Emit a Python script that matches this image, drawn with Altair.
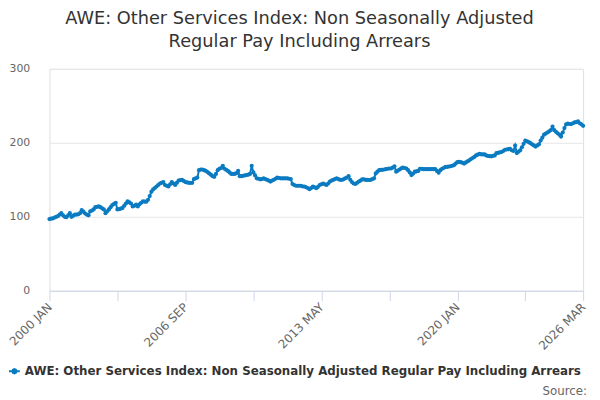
import altair as alt
import pandas as pd

TITLE = ["AWE: Other Services Index: Non Seasonally Adjusted", "Regular Pay Including Arrears"]
SERIES = "AWE: Other Services Index: Non Seasonally Adjusted Regular Pay Including Arrears"
MONTHS = ["JAN", "FEB", "MAR", "APR", "MAY", "JUN", "JUL", "AUG", "SEP", "OCT", "NOV", "DEC"]
START_YEAR = 2000

# monthly values, one row per year (2000 .. 2026 MAR)
VALUES = [
    97, 97.5, 98, 99, 100, 101, 103, 105, 102, 100, 99.5, 102,            # 2000
    105, 100, 101.5, 103, 103, 103.5, 105, 109, 107, 104.5, 103, 102,     # 2001
    107.5, 108.5, 110, 113, 113.5, 114, 113, 111.5, 110, 105, 107.5, 110, # 2002
    113, 116, 117.5, 119, 110, 110.5, 111, 112, 115, 118, 121, 119.5,     # 2003
    118, 114, 115, 116.5, 114, 117, 119, 121, 120.5, 120.5, 123, 128,     # 2004
    134, 137, 139, 141, 143, 145, 146, 147, 143, 142, 141, 144,           # 2005
    147, 145, 143, 146, 149, 149.5, 150, 148.5, 147, 146.5, 146, 146,     # 2006
    146, 151, 152, 153, 163, 164, 164, 163, 162, 160.5, 158.7, 157,       # 2007
    155, 154, 158, 163, 165, 166, 169, 165, 163.5, 162, 160, 158,         # 2008
    158, 158, 159, 162, 155, 155, 155.5, 156, 156.5, 157, 158, 169,       # 2009
    160, 156, 152, 151.5, 150.7, 151, 152, 151, 150, 149, 147.6, 149,     # 2010
    150, 151.5, 153, 152.5, 152, 152, 152, 152, 152, 151.5, 151, 144.4,   # 2011
    143, 142, 142, 142, 142, 141, 141, 140, 139, 137.3, 139, 141,         # 2012
    140, 138.7, 140.5, 143, 144, 145, 144, 143, 145, 147.6, 149, 150,     # 2013
    151, 152, 151, 150, 150, 150.7, 152, 153, 155, 150, 147, 145,         # 2014
    144.4, 146, 147.6, 149, 150.7, 150.5, 150, 150, 149.8, 150, 151, 152, # 2015
    158.7, 161, 163, 163.5, 163.5, 164, 164.5, 165, 165.3, 165.3, 166.5, 168.4,  # 2016
    161, 162.5, 164, 165.5, 166.7, 166, 165.3, 163, 160, 156.4, 158.5, 161,      # 2017
    161.5, 162, 165, 165, 164.4, 164.5, 164.4, 164.4, 164.4, 164.5, 164.4, 164.4, # 2018
    162, 159.6, 163, 165, 166, 167.6, 167.5, 168, 168.4, 169, 169.8, 172,        # 2019
    174, 174.2, 174, 173, 172, 173.5, 175, 176.4, 178, 179.5, 181, 183,          # 2020
    184, 185, 184.5, 184.4, 184.4, 183, 182.2, 182, 181.8, 182.5, 183, 186,      # 2021
    186.5, 187, 187.6, 189, 190.7, 191, 191.5, 192, 190, 189, 196.4, 186.2,      # 2022
    188, 190, 194, 198.7, 203, 202, 201, 199.5, 198, 196.5, 195, 196.5,          # 2023
    198, 203, 207, 211, 212.5, 214, 215.5, 217.3, 221.8, 217.3, 215, 213,        # 2024
    211, 208.4, 214, 220, 225, 226, 225.5, 225.3, 226.5, 227.6, 228, 228.9,      # 2025
    226.5, 225, 223,                                                              # 2026
]

LABELLED = [0, 80, 160, 240, 314]
TICKS = list(range(0, 301, 20)) + [314]
Y_TICKS = [0, 100, 200, 300]

COLOR = "#0b7bc1"
FONT = "DejaVu Sans"

labels = [f"{START_YEAR + i // 12} {MONTHS[i % 12]}" for i in range(len(VALUES))]
df = pd.DataFrame({"i": list(range(len(VALUES))), "value": VALUES, "label": labels, "series": SERIES})

label_expr = "".join(f"datum.value == {k} ? '{labels[k]}' : " for k in LABELLED) + "''"

PAD_L = 42
W, H = 541, 225

x_enc = alt.X(
    "i:Q",
    scale=alt.Scale(domain=[0, len(VALUES) - 1], nice=False, zero=False),
    axis=alt.Axis(
        title=None, values=TICKS, labelExpr=label_expr, grid=False,
        domainColor="#ccd6eb", tickColor="#ccd6eb", tickSize=10,
        labelAngle=315, labelAlign="right", labelBaseline="middle",
        labelPadding=4, labelFontSize=12, labelColor="#666666", labelFont=FONT,
        labelOverlap=False, labelFlush=False,
    ),
)
y_enc = alt.Y(
    "value:Q",
    scale=alt.Scale(domain=[0, 300], nice=False),
    axis=alt.Axis(
        title=None, values=Y_TICKS, domain=False, ticks=False,
        gridColor="#e6e6e6", labelPadding=20, labelFontSize=11,
        labelColor="#666666", labelFont=FONT,
    ),
)

symbol_path = ("M-1,0L1,0M0.4,0L0.28,0.28L0,0.4L-0.28,0.28L-0.4,0"
               "L-0.28,-0.28L0,-0.4L0.28,-0.28Z")

color_enc = alt.Color(
    "series:N",
    scale=alt.Scale(range=[COLOR]),
    legend=alt.Legend(
        title=None, orient="none", legendX=-PAD_L, legendY=300, padding=0,
        symbolType=symbol_path, symbolSize=121, symbolStrokeWidth=2,
        symbolFillColor=COLOR, symbolStrokeColor=COLOR,
        labelFont=FONT, labelFontSize=12, labelFontWeight="bold",
        labelColor="#333333", labelLimit=0, labelOffset=4,
    ),
)

line = alt.Chart(df).mark_line(strokeWidth=2).encode(x=x_enc, y=y_enc, color=color_enc)
points = alt.Chart(df).mark_point(filled=True, size=18, opacity=1).encode(
    x="i:Q", y="value:Q", color=alt.Color("series:N", legend=None, scale=alt.Scale(range=[COLOR]))
)

source = alt.Chart(pd.DataFrame({"t": ["Source:"]})).mark_text(
    align="right", baseline="middle", fontSize=12, font=FONT, color="#666666"
).encode(x=alt.value(545), y=alt.value(327), text="t:N")

chart = alt.layer(line, points, source).properties(
    width=W,
    height=H,
    autosize=alt.AutoSizeParams(type="none"),
    padding={"left": PAD_L, "top": 59, "right": 9, "bottom": 108},
    title=alt.TitleParams(
        text=TITLE, font=FONT, fontSize=18, fontWeight="normal", color="#333333",
        anchor="middle", dx=-17, offset=12, lineHeight=23,
    ),
).configure_view(stroke=None).configure(background="white")

chart.save("out.html", embed_options={"renderer": "svg", "actions": False})
